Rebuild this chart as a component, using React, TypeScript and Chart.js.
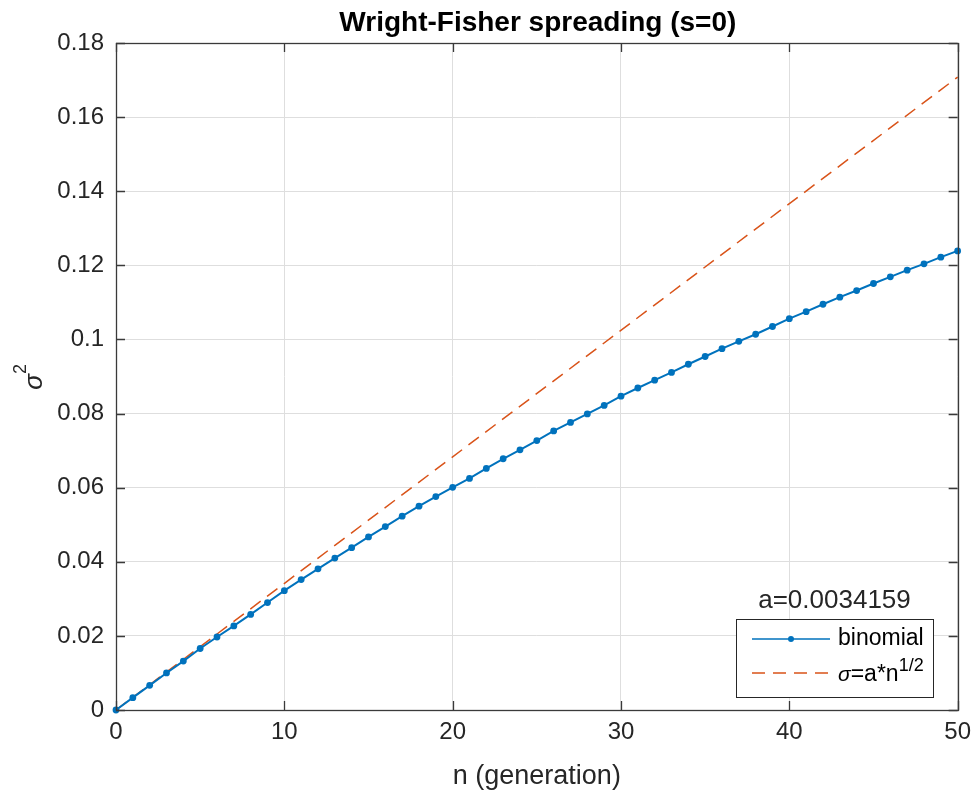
import React, { useEffect, useRef } from "react";
import { Chart, registerables } from "chart.js";

Chart.register(...registerables);

const chartTitle = "Wright-Fisher spreading (s=0)";
const xAxisLabel = "n (generation)";
const legendTitle = "a=0.0034159";
const binomialLabel = "binomial";

const generations = [
  0, 1, 2, 3, 4, 5, 6, 7, 8, 9, 10, 11, 12, 13, 14, 15, 16, 17, 18, 19, 20,
  21, 22, 23, 24, 25, 26, 27, 28, 29, 30, 31, 32, 33, 34, 35, 36, 37, 38, 39,
  40, 41, 42, 43, 44, 45, 46, 47, 48, 49, 50,
];
const binomialVariance = [
  0, 0.00333, 0.00665, 0.01, 0.0132, 0.0166, 0.0197, 0.0227, 0.0258, 0.029,
  0.0322, 0.0352, 0.0381, 0.041, 0.0438, 0.0467, 0.0495, 0.0523, 0.055, 0.0576,
  0.0601, 0.0625, 0.0652, 0.0678, 0.0702, 0.0727, 0.0753, 0.0776, 0.0799,
  0.0822, 0.0847, 0.0869, 0.089, 0.0911, 0.0933, 0.0954, 0.0975, 0.0995,
  0.1014, 0.1035, 0.1056, 0.1075, 0.1095, 0.1114, 0.1132, 0.1151, 0.1169,
  0.1187, 0.1204, 0.1222, 0.1239,
];
const fitGenerations = [0, 50];
const fitVariance = [0, 0.1708];

const xTicks = [0, 10, 20, 30, 40, 50];
const yTicks = [0, 0.02, 0.04, 0.06, 0.08, 0.1, 0.12, 0.14, 0.16, 0.18];

const BLUE = "#0072BD";
const RED = "#D95319";
const AXIS = "#262626";
const FONT = '"Liberation Sans", Arial, Helvetica, sans-serif';

const overlayPlugin = {
  id: "overlay",
  afterDraw(chart: any) {
    const { ctx, chartArea: a, scales } = chart;
    ctx.save();
    // axes box
    ctx.strokeStyle = "#3a3a3a";
    ctx.lineWidth = 1.3;
    ctx.strokeRect(
      Math.round(a.left) + 0.5,
      Math.round(a.top) + 0.5,
      Math.round(a.right - a.left),
      Math.round(a.bottom - a.top)
    );
    // inward ticks
    const tl = 9;
    ctx.beginPath();
    xTicks.forEach((v) => {
      const px = Math.round(scales.x.getPixelForValue(v)) + 0.5;
      ctx.moveTo(px, a.bottom);
      ctx.lineTo(px, a.bottom - tl);
      ctx.moveTo(px, a.top);
      ctx.lineTo(px, a.top + tl);
    });
    yTicks.forEach((v) => {
      const py = Math.round(scales.y.getPixelForValue(v)) + 0.5;
      ctx.moveTo(a.left, py);
      ctx.lineTo(a.left + tl, py);
      ctx.moveTo(a.right, py);
      ctx.lineTo(a.right - tl, py);
    });
    ctx.stroke();

    // title
    ctx.fillStyle = "#000";
    ctx.font = `bold 28px ${FONT}`;
    ctx.textAlign = "center";
    ctx.textBaseline = "alphabetic";
    ctx.fillText(chartTitle, (a.left + a.right) / 2 + 1, 31);

    // x label
    ctx.fillStyle = AXIS;
    ctx.font = `27px ${FONT}`;
    ctx.fillText(xAxisLabel, (a.left + a.right) / 2, 784);

    // y label (sigma^2), rotated
    ctx.save();
    ctx.translate(42, 374);
    ctx.rotate(-Math.PI / 2);
    ctx.textAlign = "right";
    ctx.font = `italic 26px ${FONT}`;
    ctx.fillText("σ", 0, 0);
    ctx.textAlign = "left";
    ctx.font = `18px ${FONT}`;
    ctx.fillText("2", 0, -16);
    ctx.restore();

    // legend
    const lx = 736, ly = 619, lw = 197, lh = 78;
    ctx.fillStyle = AXIS;
    ctx.font = `26px ${FONT}`;
    ctx.textAlign = "center";
    ctx.textBaseline = "middle";
    ctx.fillText(legendTitle, lx + lw / 2, 601);

    ctx.fillStyle = "#fff";
    ctx.fillRect(lx, ly, lw, lh);
    ctx.strokeStyle = AXIS;
    ctx.lineWidth = 1;
    ctx.strokeRect(lx + 0.5, ly + 0.5, lw, lh);

    // row 1
    const r1 = 639;
    ctx.strokeStyle = BLUE;
    ctx.lineWidth = 1.5;
    ctx.beginPath();
    ctx.moveTo(752, r1);
    ctx.lineTo(830, r1);
    ctx.stroke();
    ctx.fillStyle = BLUE;
    ctx.beginPath();
    ctx.arc(791, r1, 3, 0, Math.PI * 2);
    ctx.fill();
    ctx.fillStyle = "#000";
    ctx.font = `23px ${FONT}`;
    ctx.textAlign = "left";
    ctx.textBaseline = "middle";
    ctx.fillText(binomialLabel, 838, r1);

    // row 2
    const r2 = 673;
    ctx.strokeStyle = RED;
    ctx.lineWidth = 1.5;
    ctx.setLineDash([13, 8]);
    ctx.beginPath();
    ctx.moveTo(752, r2);
    ctx.lineTo(830, r2);
    ctx.stroke();
    ctx.setLineDash([]);
    ctx.fillStyle = "#000";
    ctx.textBaseline = "alphabetic";
    let tx = 838;
    ctx.font = `italic 21px ${FONT}`;
    ctx.fillText("σ", tx, 681);
    tx += ctx.measureText("σ").width;
    ctx.font = `23px ${FONT}`;
    ctx.fillText("=a*n", tx, 681);
    tx += ctx.measureText("=a*n").width;
    ctx.font = `18px ${FONT}`;
    ctx.fillText("1/2", tx, 671);

    ctx.restore();
  },
};

export default function App() {
  const canvasRef = useRef<HTMLCanvasElement | null>(null);

  useEffect(() => {
    const canvas = canvasRef.current;
    if (!canvas) return;
    const chart = new Chart(canvas, {
      type: "line",
      data: {
        datasets: [
          {
            label: binomialLabel,
            data: generations.map((n, i) => ({ x: n, y: binomialVariance[i] })),
            borderColor: BLUE,
            backgroundColor: BLUE,
            borderWidth: 2,
            pointRadius: 3.4,
            pointBorderWidth: 0,
            pointBackgroundColor: BLUE,
            tension: 0,
            clip: false,
          } as any,
          {
            label: "fit",
            data: fitGenerations.map((n, i) => ({ x: n, y: fitVariance[i] })),
            borderColor: RED,
            borderWidth: 1.5,
            borderDash: [13, 8],
            pointRadius: 0,
            tension: 0,
            clip: false,
          } as any,
        ],
      },
      options: {
        animation: false,
        responsive: false,
        maintainAspectRatio: false,
        layout: { padding: { top: 43, right: 18, left: 0, bottom: 0 } },
        plugins: {
          legend: { display: false },
          title: { display: false },
          tooltip: { enabled: false },
        },
        scales: {
          x: {
            type: "linear",
            min: 0,
            max: 50,
            ticks: {
              stepSize: 10,
              color: AXIS,
              font: { family: FONT, size: 24 },
              padding: 8,
              maxRotation: 0,
            },
            grid: { color: "#dedede", lineWidth: 1, drawTicks: false },
            border: { display: false },
            afterFit: (s: any) => {
              s.height = 88;
            },
          },
          y: {
            type: "linear",
            min: 0,
            max: 0.18,
            ticks: {
              stepSize: 0.02,
              color: AXIS,
              font: { family: FONT, size: 24 },
              padding: 12,
              callback: (v: any) => String(Number(Number(v).toFixed(2))),
            },
            grid: { color: "#dedede", lineWidth: 1, drawTicks: false },
            border: { display: false },
            afterFit: (s: any) => {
              s.width = 116;
            },
          },
        },
      },
      plugins: [overlayPlugin],
    });
    return () => chart.destroy();
  }, []);

  return (
    <div style={{ position: "absolute", left: 0, top: 0, width: 979, height: 798, background: "#fff" }}>
      <canvas ref={canvasRef} width={979} height={798} style={{ width: 979, height: 798, display: "block" }} />
    </div>
  );
}
